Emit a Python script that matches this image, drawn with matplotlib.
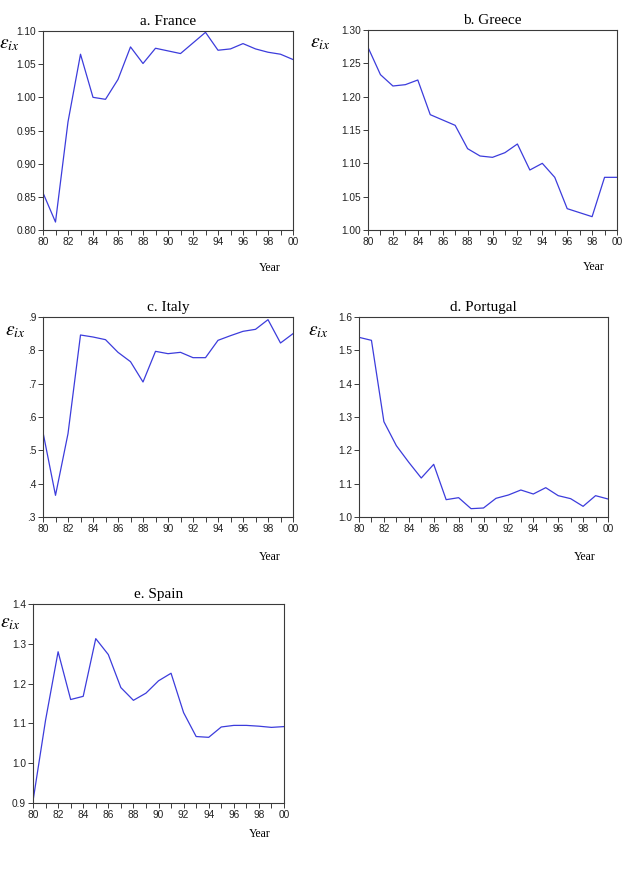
import matplotlib
matplotlib.use("Agg")
import matplotlib.pyplot as plt
from matplotlib.ticker import FixedLocator, MultipleLocator, FuncFormatter

years = list(range(1980, 2001))

france = [0.856, 0.812, 0.963, 1.065, 1.000, 0.997, 1.027, 1.076, 1.051, 1.074, 1.070,
          1.066, 1.082, 1.098, 1.071, 1.073, 1.081, 1.073, 1.068, 1.065, 1.057]
greece = [1.274, 1.233, 1.216, 1.218, 1.225, 1.173, 1.165, 1.157, 1.122, 1.111, 1.109,
          1.116, 1.129, 1.090, 1.100, 1.079, 1.032, 1.026, 1.020, 1.079, 1.079]
italy = [0.554, 0.365, 0.550, 0.846, 0.840, 0.832, 0.794, 0.766, 0.705, 0.797, 0.790,
         0.794, 0.778, 0.778, 0.830, 0.844, 0.857, 0.863, 0.892, 0.822, 0.850]
portugal = [1.539, 1.530, 1.286, 1.214, 1.164, 1.117, 1.158, 1.052, 1.058, 1.025, 1.027,
            1.056, 1.066, 1.081, 1.069, 1.088, 1.064, 1.055, 1.032, 1.064, 1.054]
spain = [0.905, 1.108, 1.280, 1.160, 1.168, 1.313, 1.273, 1.190, 1.158, 1.176, 1.207,
         1.226, 1.127, 1.067, 1.065, 1.091, 1.095, 1.095, 1.093, 1.090, 1.092]

titles = ["a. France", "b. Greece", "c. Italy", "d. Portugal", "e. Spain"]
series = [france, greece, italy, portugal, spain]
ylims = [(0.80, 1.10), (1.00, 1.30), (0.3, 0.9), (1.0, 1.6), (0.9, 1.4)]
ysteps = [0.05, 0.05, 0.1, 0.1, 0.1]
yfmts = ["{:.2f}", "{:.2f}", "italy", "{:.1f}", "{:.1f}"]

W, H = 627, 892
# axes boxes in pixels: left, top, right, bottom
boxes = [(43, 31, 293, 230), (368, 30, 617, 230), (43, 317, 293, 517),
         (359, 317, 608, 517), (33, 604, 284, 803)]
eps_pos = [(9, 44), (320, 43), (15, 331), (318, 331), (10, 623)]
year_off = [38, 37, 40, 40, 31]

LINE = "#3c3cdc"
EDGE = "#3a3a3a"

fig = plt.figure(figsize=(W / 100, H / 100), dpi=100)
plt.rcParams["mathtext.fontset"] = "stix"

for i, (title, vals) in enumerate(zip(titles, series)):
    l, t, r, b = boxes[i]
    ax = fig.add_axes([l / W, 1 - b / H, (r - l) / W, (b - t) / H])
    ax.plot(years, vals, color=LINE, linewidth=0.9)
    ax.set_xlim(1980, 2000)
    ax.set_ylim(*ylims[i])
    ax.xaxis.set_major_locator(FixedLocator(years[::2]))
    ax.xaxis.set_minor_locator(MultipleLocator(1))
    ax.xaxis.set_major_formatter(FuncFormatter(lambda v, p: f"{int(round(v)) % 100:02d}"))
    ax.yaxis.set_major_locator(MultipleLocator(ysteps[i]))
    if yfmts[i] == "italy":
        ax.yaxis.set_major_formatter(FuncFormatter(lambda v, p: f"{v:.1f}".lstrip("0")))
    else:
        f = yfmts[i]
        ax.yaxis.set_major_formatter(FuncFormatter(lambda v, p, f=f: f.format(v)))
    ax.tick_params(axis="both", which="both", direction="out", length=3.5, width=0.7,
                   color=EDGE, labelsize=7.3, labelcolor="#222222", pad=1.5,
                   labelfontfamily="Liberation Sans")
    for sp in ax.spines.values():
        sp.set_color(EDGE)
        sp.set_linewidth(0.8)
    ax.set_title(title, fontsize=11, family="Liberation Serif", pad=4)
    ax.text(0.905, -year_off[i] / (b - t), "Year", transform=ax.transAxes,
            ha="center", va="center", fontsize=8.5, family="Liberation Serif")
    ex, ey = eps_pos[i]
    fig.text(ex / W, 1 - ey / H, r"$\varepsilon_{ix}$", ha="center", va="center",
             fontsize=14)

fig.savefig("out.png", dpi=100)
